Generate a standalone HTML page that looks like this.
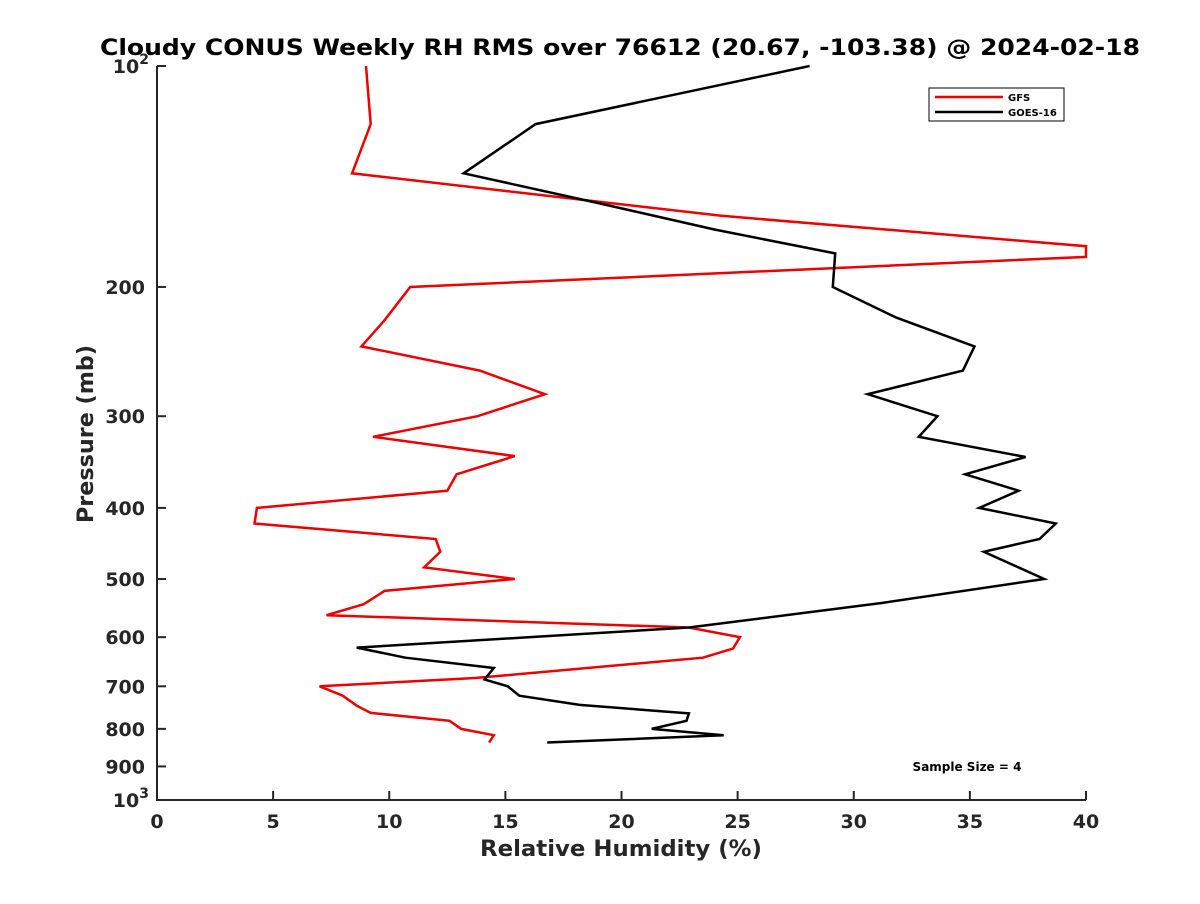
<!DOCTYPE html>
<html><head><meta charset="utf-8"><style>
body{margin:0;background:#fff;font-family:"DejaVu Sans",sans-serif}
</style></head><body>
<svg id="chart" width="1200" height="900" xmlns="http://www.w3.org/2000/svg" font-family="DejaVu Sans, sans-serif">
<rect width="1200" height="900" fill="#fff"/>
<text x="620" y="55" text-anchor="middle" font-size="22" font-weight="bold" textLength="1040" lengthAdjust="spacingAndGlyphs">Cloudy CONUS Weekly RH RMS over 76612 (20.67, -103.38) @ 2024-02-18</text>
<g id="axes"></g>
<g id="series"></g>
<g>
<rect x="929" y="88" width="135" height="33" fill="#fff" stroke="#000" stroke-width="1"/>
<line x1="935" y1="97" x2="1003" y2="97" stroke="#e00" stroke-width="2.5"/>
<text x="1008" y="101" font-size="10" font-weight="bold">GFS</text>
<line x1="935" y1="112" x2="1003" y2="112" stroke="#000" stroke-width="2.5"/>
<text x="1008" y="116" font-size="10" font-weight="bold">GOES-16</text>
</g>
<text x="967" y="771" text-anchor="middle" font-size="12" font-weight="bold">Sample Size = 4</text>
<text x="621" y="856" text-anchor="middle" font-size="22" font-weight="bold" fill="#262626" textLength="282" lengthAdjust="spacingAndGlyphs">Relative Humidity (%)</text>
<text transform="translate(93,434) rotate(-90)" text-anchor="middle" font-size="22" font-weight="bold" fill="#262626" textLength="178" lengthAdjust="spacingAndGlyphs">Pressure (mb)</text>
</svg>
<script>
const xTicks=[0,5,10,15,20,25,30,35,40];
const yTicks=[100,200,300,400,500,600,700,800,900,1000];
const yTickLabels=["10²","200","300","400","500","600","700","800","900","10³"];
const gfsRH=[9.0,9.2,8.4,24.3,40,40,10.9,9.8,8.8,13.9,16.7,13.8,9.3,15.4,12.9,12.5,4.3,4.2,12.0,12.2,11.5,15.4,9.8,8.9,7.3,22.9,25.1,24.8,23.5,13.7,7.0,8.0,8.6,9.2,12.6,13.1,14.5,14.3];
const gfsP=[100,120,140,160,176,182,200,222,241,260,280,300,320,340,360,379,400,420,441,459,482,500,519,541,560,582,600,622,640,682,700,721,744,761,780,800,816,835];
const goesRH=[28.1,16.3,13.2,19.1,24.0,29.2,29.1,31.8,35.2,34.7,30.6,33.6,32.8,37.4,34.8,37.1,35.4,38.7,38.0,35.6,38.2,31.2,22.9,8.6,10.7,14.5,14.1,15.1,15.6,18.2,22.9,22.8,21.3,24.4,16.8];
const goesP=[100,120,140,154,167,180,200,220,241,260,280,300,320,341,360,379,400,420,441,459,500,539,582,620,640,661,685,700,721,742,762,780,800,816,835];
const X0=157,X1=1086,Y0=66,Y1=800;
const xs=v=>X0+(v-0)/(40-0)*(X1-X0);
const ys=p=>Y0+Math.log10(p/100)*(Y1-Y0);
const NS="http://www.w3.org/2000/svg";
const axes=document.getElementById('axes'),series=document.getElementById('series');
function mk(t,a,parent){const e=document.createElementNS(NS,t);for(const k in a)e.setAttribute(k,a[k]);parent.appendChild(e);return e;}
let ax=mk('path',{d:`M${X0},${Y0}V${Y1}H${X1}`,fill:'none',stroke:'#262626','stroke-width':2},axes);


xTicks.forEach(v=>{
 const x=xs(v);
 mk('line',{x1:x,y1:Y1,x2:x,y2:Y1-9,stroke:'#262626','stroke-width':2},axes);
 const t=mk('text',{x:x,y:Y1+28,'text-anchor':'middle','font-size':19,'font-weight':'bold',fill:'#262626'},axes);
 t.textContent=v;
 
 
});
yTicks.forEach((p,i)=>{
 const y=ys(p);
 mk('line',{x1:X0,y1:y,x2:X0+9,y2:y,stroke:'#262626','stroke-width':2},axes);
 const lab=yTickLabels[i];
 const t=mk('text',{x:X0-12,y:y+7,'text-anchor':'end','font-size':19,'font-weight':'bold',fill:'#262626'},axes);
 
 
 if(lab==="10²"||lab==="10³"){
  t.textContent="10";
  const s=document.createElementNS(NS,'tspan');s.setAttribute('dy','-9');s.setAttribute('font-size','14');s.textContent=lab==="10²"?"2":"3";t.appendChild(s);
  t.setAttribute('x',X0-8);
 } else t.textContent=lab;
});
function line(rh,p,color,name){
 const d=rh.map((v,i)=>(i?'L':'M')+xs(v).toFixed(1)+','+ys(p[i]).toFixed(1)).join('');
 const e=mk('path',{d:d,fill:'none',stroke:color,'stroke-width':2.5,'stroke-linejoin':'miter'},series);
 
 
}
line(gfsRH,gfsP,'#e00','gfs-line');
line(goesRH,goesP,'#000','goes16-line');
</script>
</body></html>
